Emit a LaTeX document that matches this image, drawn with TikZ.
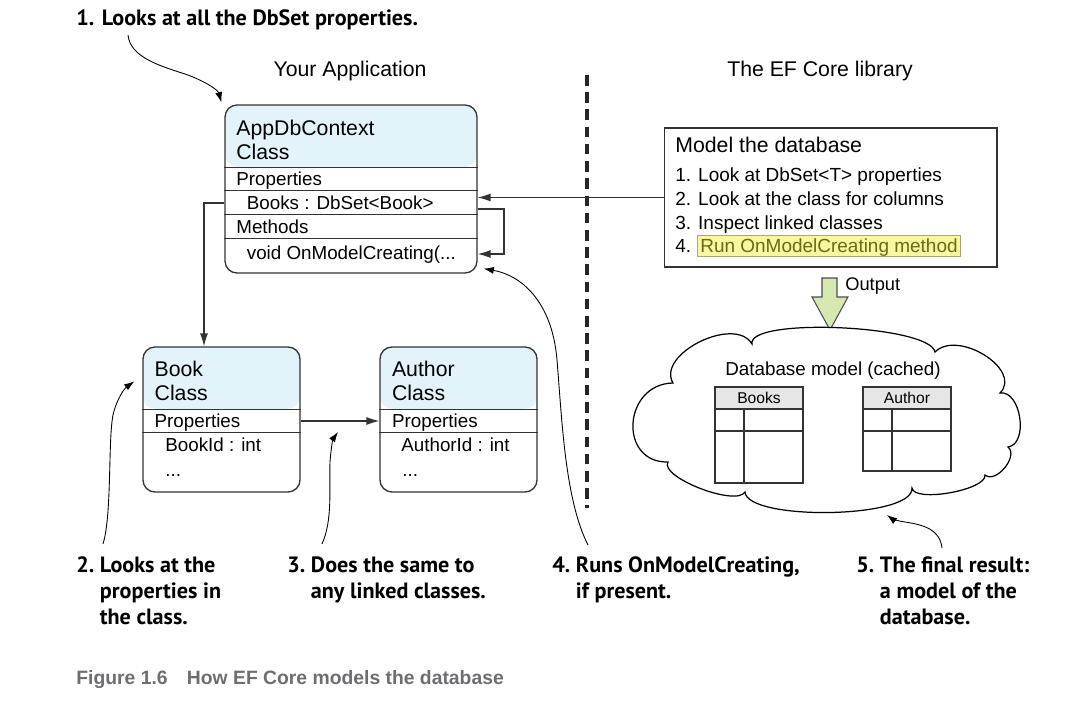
\documentclass[tikz,border=0pt]{standalone}
\usepackage{fontspec}
\setmainfont{Liberation Sans}
\newfontfamily\notefont{PT Sans}
\usetikzlibrary{arrows.meta}

\definecolor{headblue}{HTML}{E2F3FA}
\definecolor{boxgray}{HTML}{333333}
\definecolor{tablegray}{HTML}{E6E6E6}
\definecolor{outgreen}{HTML}{D4E8B0}
\definecolor{hiyellow}{HTML}{F8F8A0}
\definecolor{hiborder}{HTML}{A9A77A}
\definecolor{hitext}{HTML}{6A6A18}
\definecolor{capgray}{HTML}{6D6E71}

\tikzset{
  classbox/.style={draw=boxgray, line width=0.75pt, rounded corners=6.8pt,
    path picture={\fill[headblue] (path picture bounding box.north west)
      rectangle ([yshift=-35.15pt]path picture bounding box.north east);}},
  rowline/.style={draw=boxgray, line width=0.55pt},
  headtext/.style={anchor=base west, inner sep=0pt, font=\fontsize{12.1}{14}\selectfont},
  rowtext/.style={anchor=base west, inner sep=0pt, font=\fontsize{10.7}{12}\selectfont},
  conn/.style={draw=boxgray, line width=0.75pt, -{Latex[length=7.4pt,width=4.6pt]}},
  note/.style={anchor=base west, inner sep=0pt, font=\notefont\bfseries\fontsize{12.6}{14.74}\selectfont},
  notearrow/.style={draw=black, line width=0.5pt, -{Latex[length=5.8pt,width=4pt]}},
  tableline/.style={draw=boxgray, line width=0.7pt},
  hilite/.style={anchor=base west, fill=hiyellow, draw=hiborder, line width=0.4pt,
    text=hitext, inner xsep=1.7pt, inner ysep=0pt, text height=10pt, text depth=2.2pt,
    font=\fontsize{10.8}{12}\selectfont}
}

\begin{document}
\begin{tikzpicture}[x=0.02cm, y=-0.02cm]

    % Fix the size of the page
    \useasboundingbox (0,0) rectangle (1086,706);

    % Titles of the two sides
    \node[headtext, anchor=base] (apptitle) at (350,76.6) {Your Application};
    \node[headtext, anchor=base] (eftitle) at (820,76.6) {The EF Core library};

    % Dashed divider between the two sides
    \coordinate (divtop) at (587,75);
    \coordinate (divbot) at (587,508);
    \draw[draw=black!85, line width=2pt, dash pattern=on 6pt off 3.8pt] (divtop) -- (divbot);

    % The AppDbContext class
    \node[classbox, minimum width=5.04cm, minimum height=3.36cm] (ctx) at (351,189) {};
    \node[headtext] (ctxname) at (236,135) {AppDbContext};
    \node[headtext] (ctxclass) at (236,160) {Class};
    \draw[rowline] (ctx.west |- 0,167) -- (ctx.east |- 0,167);
    \draw[rowline] (ctx.west |- 0,190.7) -- (ctx.east |- 0,190.7);
    \draw[rowline] (ctx.west |- 0,214) -- (ctx.east |- 0,214);
    \draw[rowline] (ctx.west |- 0,238) -- (ctx.east |- 0,238);
    \node[rowtext] (ctxprops) at (236,185.7) {Properties};
    \node[rowtext] (ctxbooks) at (246.5,209.7) {Books : DbSet<Book>};
    \node[rowtext] (ctxmethods) at (236,233.7) {Methods};
    \node[rowtext] (ctxcreate) at (246.5,259.7) {void OnModelCreating(...};

    % The Book class
    \node[classbox, minimum width=3.14cm, minimum height=2.9cm] (book) at (221.5,419.5) {};
    \node[headtext] (bookname) at (154.3,376) {Book};
    \node[headtext] (bookclass) at (154.3,400.5) {Class};
    \draw[rowline] (book.west |- 0,409) -- (book.east |- 0,409);
    \draw[rowline] (book.west |- 0,432.7) -- (book.east |- 0,432.7);
    \node[rowtext] (bookprops) at (154.3,427.4) {Properties};
    \node[rowtext] (bookid) at (165,451.7) {BookId : int};
    \node[rowtext] (bookmore) at (165,476) {...};

    % The Author class
    \node[classbox, minimum width=3.14cm, minimum height=2.9cm] (author) at (458.5,419.5) {};
    \node[headtext] (authorname) at (391.7,376) {Author};
    \node[headtext] (authorclass) at (391.7,400.5) {Class};
    \draw[rowline] (author.west |- 0,409) -- (author.east |- 0,409);
    \draw[rowline] (author.west |- 0,432.7) -- (author.east |- 0,432.7);
    \node[rowtext] (authorprops) at (391.7,427.4) {Properties};
    \node[rowtext] (authorid) at (401,451.7) {AuthorId : int};
    \node[rowtext] (authormore) at (402,476) {...};

    % Connectors between the classes
    \draw[conn] (ctx.west |- 0,203) -| (book.north -| 204,0);
    \draw[conn] (book.east |- 0,421) -- (author.west |- 0,421);
    \draw[conn] (ctx.east |- 0,209) -- (504,209) |- (ctx.east |- 0,254);

    % The model box of EF Core
    \node[draw=boxgray, line width=0.6pt, minimum width=6.66cm, minimum height=2.78cm] (model) at (830.5,197.5) {};
    \node[headtext] (modeltitle) at (675,152.7) {Model the database};
    \node[rowtext, font=\fontsize{10.8}{12}\selectfont] (step1) at (675,181.8) {1. Look at DbSet<T> properties};
    \node[rowtext, font=\fontsize{10.8}{12}\selectfont] (step2) at (675,205.8) {2. Look at the class for columns};
    \node[rowtext, font=\fontsize{10.8}{12}\selectfont] (step3) at (675,229.5) {3. Inspect linked classes};
    \node[rowtext, font=\fontsize{10.8}{12}\selectfont] (step4) at (675,252.8) {4.};
    \node[hilite] (step4run) at (697,252.8) {Run OnModelCreating method};
    \draw[conn] (model.west) -- (model.west -| ctx.east);

    % The green output arrow
    \draw[fill=outgreen, draw=black!70, line width=0.6pt]
      (822,278) -- (837,278) -- (837,297) -- (848,297) -- (830,330) -- (812,297) -- (822,297) -- cycle;
    \node[rowtext, font=\fontsize{10.4}{12}\selectfont] (output) at (845,290.5) {Output};

    % The cached model cloud
    \draw[draw=black, line width=0.7pt, fill=white]
      (668,462) .. controls (618,463) and (623,384) .. (673,383)
      .. controls (656,354) and (735,315) .. (752,344)
      .. controls (747,317) and (930,325) .. (935,352)
      .. controls (958,329) and (1023,370) .. (1000,393)
      .. controls (1021,390) and (1029,444) .. (1008,447)
      .. controls (1019,456) and (996,484) .. (985,475)
      .. controls (987,490) and (914,503) .. (912,488)
      .. controls (914,519) and (747,521) .. (745,492)
      .. controls (736,507) and (659,477) .. (668,462) -- cycle;
    \node[rowtext, anchor=base] (dbtitle) at (833,375) {Database model (cached)};

    % Books table
    \draw[tableline, fill=tablegray] (715,387) rectangle (803,409);
    \draw[tableline] (715,409) rectangle (803,483);
    \draw[tableline] (715,431) -- (803,431);
    \draw[tableline] (744,409) -- (744,483);
    \node[rowtext, anchor=base, font=\fontsize{8.9}{10}\selectfont] (bookstbl) at (759,403.6) {Books};

    % Author table
    \draw[tableline, fill=tablegray] (863,387) rectangle (951,409);
    \draw[tableline] (863,409) rectangle (951,471);
    \draw[tableline] (863,431) -- (951,431);
    \draw[tableline] (892,409) -- (892,471);
    \node[rowtext, anchor=base, font=\fontsize{8.9}{10}\selectfont] (authortbl) at (907,403.6) {Author};

    % Annotations
    \node[note] (note1) at (76,25.5) {1. Looks at all the DbSet properties.};
    \node[note] (note2) at (76,572.5) {\begin{tabular}[t]{@{}l@{\ }l@{}}2. & Looks at the\\ & properties in\\ & the class.\end{tabular}};
    \node[note] (note3) at (287,572.5) {\begin{tabular}[t]{@{}l@{\ }l@{}}3. & Does the same to\\ & any linked classes.\end{tabular}};
    \node[note] (note4) at (552,572.5) {\begin{tabular}[t]{@{}l@{\ }l@{}}4. & Runs OnModelCreating,\\ & if present.\end{tabular}};
    \node[note] (note5) at (856,572.5) {\begin{tabular}[t]{@{}l@{\ }l@{}}5. & The final result:\\ & a model of the\\ & database.\end{tabular}};

    % Annotation arrows
    \coordinate (n1) at (128,35);
    \coordinate (n2) at (103,544);
    \coordinate (n3) at (322,544);
    \coordinate (n4) at (588,545);
    \coordinate (n5) at (942,548);
    \coordinate (t3) at (338,432);
    \coordinate (t5) at (887,515);
    \draw[notearrow] (n1) .. controls (130,57) and (160,66) .. (185,74)
      .. controls (205,81) and (218,90) .. ([shift={(-3,-2)}]ctx.north west);
    \draw[notearrow] (n2) .. controls (112,515) and (108,440) .. (113,415)
      .. controls (117,398) and (125,388) .. ([shift={(-8,35)}]book.north west);
    \draw[notearrow] (n3) .. controls (333,520) and (329,485) .. (330,462)
      .. controls (331,448) and (333,439) .. (t3);
    \draw[notearrow] (n4) .. controls (565,500) and (562,420) .. (557,360)
      .. controls (552,300) and (520,275) .. ([shift={(6,-5)}]ctx.south east);
    \draw[notearrow] (n5) .. controls (940,530) and (925,525) .. (905,522)
      .. controls (897,521) and (891,518) .. (t5);

    % Figure caption
    \node[anchor=base west, inner sep=0pt, text=capgray, font=\bfseries\fontsize{11}{12}\selectfont] (caption)
      at (76,684.7) {Figure 1.6\quad How EF Core models the database};

\end{tikzpicture}
\end{document}
